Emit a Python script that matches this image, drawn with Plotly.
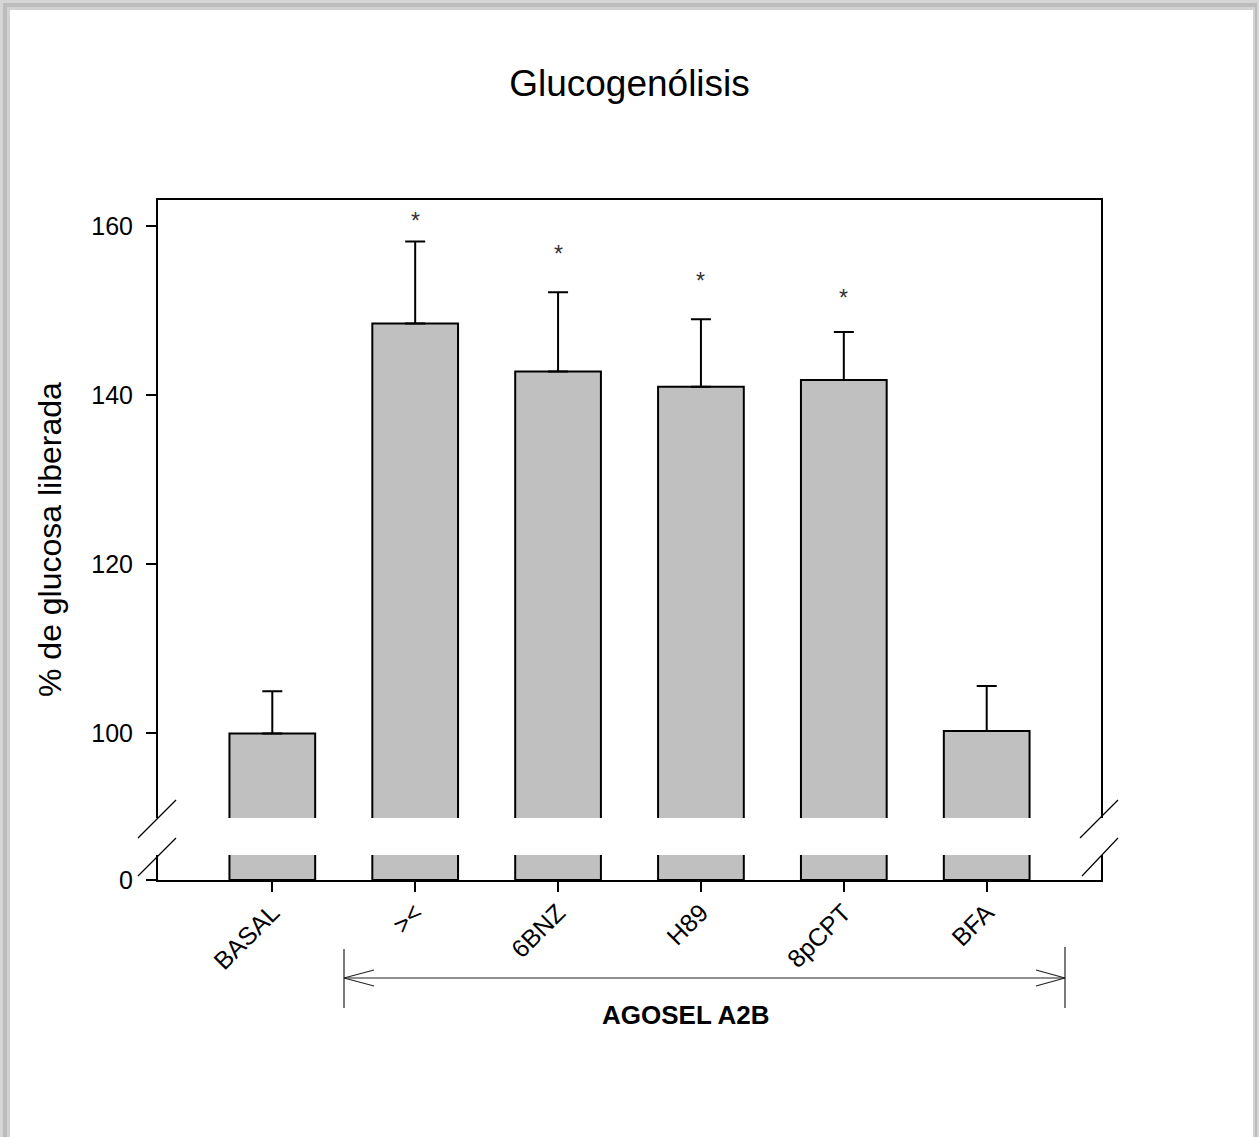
import plotly.graph_objects as go

# ---- data ----
categories = ["BASAL", "><", "6BNZ", "H89", "8pCPT", "BFA"]
mean_values = [100.0, 148.5, 142.8, 141.0, 141.8, 100.3]
error_upper = [5.0, 9.7, 9.4, 8.0, 5.7, 5.3]
star_categories = ["><", "6BNZ", "H89", "8pCPT"]
star_y = [160.9, 157.0, 153.8, 151.7]
upper_tickvals = [100, 120, 140, 160]
lower_tickvals = [0]

W, H = 1259, 1137
L, R, T, B = 158, 1101, 200, 880  # plot-area pixel edges
FONT = "Liberation Sans, Arial, sans-serif"


def px(xp):
    return (xp - L) / (R - L)


def py(yp):
    return (B - yp) / (B - T)


fig = go.Figure()

# upper segment bars (with error bars)
fig.add_trace(go.Bar(
    x=categories, y=mean_values, xaxis="x2", yaxis="y2", width=0.6,
    marker=dict(color="#c0c0c0", line=dict(color="black", width=2)),
    error_y=dict(type="data", symmetric=False, array=error_upper,
                 arrayminus=[0] * len(error_upper),
                 color="black", thickness=2, width=10),
    showlegend=False, hoverinfo="skip",
))
# lower segment bars
fig.add_trace(go.Bar(
    x=categories, y=mean_values, xaxis="x", yaxis="y", width=0.6,
    marker=dict(color="#c0c0c0", line=dict(color="black", width=2)),
    showlegend=False, hoverinfo="skip",
))

upper_bottom = py(818)
lower_top = py(855)

axis_common = dict(showgrid=False, zeroline=False, linecolor="black", linewidth=2,
                   tickfont=dict(family=FONT, size=25, color="black"))

fig.update_layout(
    width=W, height=H,
    margin=dict(l=L, r=W - R, t=T, b=H - B),
    paper_bgcolor="#d6d6d6", plot_bgcolor="rgba(0,0,0,0)",
    font=dict(family=FONT, color="black"),
    bargap=0.4,
    title=dict(text="Glucogenólisis", x=0.5, xref="paper", xanchor="center",
               y=1 - 83 / H, yref="container", yanchor="middle",
               font=dict(family=FONT, size=37, color="black")),
    xaxis=dict(domain=[0, 1], anchor="y", type="category", range=[-0.8, 5.8],
               showline=True, ticks="outside", ticklen=10, tickwidth=2,
               tickcolor="black", tickangle=-45, ticklabelstandoff=-4,
               **axis_common),
    xaxis2=dict(domain=[0, 1], anchor="y2", matches="x", type="category",
                side="top", showline=True, ticks="", showticklabels=False,
                showgrid=False, zeroline=False, linecolor="black", linewidth=2),
    yaxis=dict(domain=[0, lower_top], anchor="x", range=[0, 2.96],
               tickvals=lower_tickvals, ticks="outside", ticklen=10, tickwidth=2,
               tickcolor="black", showline=True, mirror=True,
               ticklabelstandoff=8, **axis_common),
    yaxis2=dict(domain=[upper_bottom, 1], anchor="x2", range=[90, 163.1],
                tickvals=upper_tickvals, ticks="outside", ticklen=10, tickwidth=2,
                tickcolor="black", showline=True, mirror=True,
                ticklabelstandoff=8, **axis_common),
)

shapes = []
# page card with soft gray border
shapes.append(dict(type="rect", xref="paper", yref="paper",
                   x0=px(3), x1=px(1257), y0=py(1137), y1=py(3),
                   fillcolor="#bcbcbc", line=dict(width=0), layer="below"))
shapes.append(dict(type="rect", xref="paper", yref="paper",
                   x0=px(7), x1=px(1255), y0=py(1137), y1=py(7),
                   fillcolor="#d2d2d2", line=dict(width=0), layer="below"))
shapes.append(dict(type="rect", xref="paper", yref="paper",
                   x0=px(10), x1=px(1253), y0=py(1137), y1=py(10),
                   fillcolor="white", line=dict(width=0), layer="below"))

# axis-break slashes
for (xa, ya, xb, yb) in [(138, 838, 176, 800), (138, 876, 176, 838),
                         (1080, 838, 1118, 800), (1082, 876, 1118, 838)]:
    shapes.append(dict(type="line", xref="paper", yref="paper",
                       x0=px(xa), y0=py(ya), x1=px(xb), y1=py(yb),
                       line=dict(color="black", width=1.2)))

# bracket with open arrows
brk = dict(color="#222222", width=1.2)
for (xa, ya, xb, yb) in [(344, 978, 1065, 978),
                         (344, 949, 344, 1008), (1065, 947, 1065, 1008),
                         (344, 978, 374, 970), (344, 978, 374, 986),
                         (1065, 978, 1036, 970), (1065, 978, 1036, 986)]:
    shapes.append(dict(type="line", xref="paper", yref="paper",
                       x0=px(xa), y0=py(ya), x1=px(xb), y1=py(yb), line=brk))

fig.update_layout(shapes=shapes)

annotations = []
for c, yv in zip(star_categories, star_y):
    annotations.append(dict(x=c, y=yv, xref="x2", yref="y2", text="*",
                            showarrow=False, yanchor="middle", yshift=-2,
                            font=dict(family=FONT, size=23, color="#333333")))
annotations.append(dict(text="% de glucosa liberada", textangle=-90,
                        x=px(50), y=py(540), xref="paper", yref="paper",
                        xanchor="center", yanchor="middle", showarrow=False,
                        font=dict(family=FONT, size=32, color="black")))
annotations.append(dict(text="<b>AGOSEL A2B</b>", x=px(686), y=py(1015),
                        xref="paper", yref="paper", xanchor="center",
                        yanchor="middle", showarrow=False,
                        font=dict(family=FONT, size=26, color="black")))
fig.update_layout(annotations=annotations)

fig.write_html("out.html")
